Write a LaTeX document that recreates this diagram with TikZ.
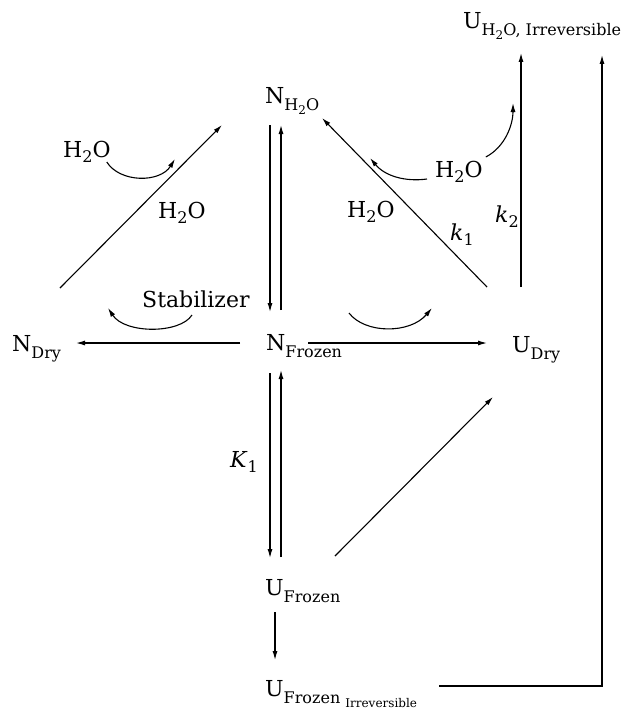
\documentclass[tikz,border=0pt]{standalone}
\usepackage{fontspec}
\setmainfont{DejaVu Serif}
\usepackage{tikz}
\usetikzlibrary{arrows.meta,calc}

\newcommand{\diagfont}{\fontsize{22}{26}\selectfont}
\newcommand{\lo}[1]{\raisebox{-7pt}{\fontsize{16}{18}\selectfont #1}}
\newcommand{\llo}[1]{\raisebox{-4pt}{\fontsize{12}{14}\selectfont #1}}
\newcommand{\wat}{H\raisebox{-5pt}{\fontsize{16}{18}\selectfont 2}O}
\newcommand{\rate}[2]{\textit{#1}\raisebox{-5pt}{\fontsize{16}{18}\selectfont #2}}

\begin{document}
\begin{tikzpicture}[
    x=1pt, y=-1pt,
    every node/.style={inner sep=0pt,anchor=base west,font=\diagfont},
    arrow/.style={-{Latex[length=9pt,width=5pt]},line width=1.1pt},
    curvearrow/.style={-{Latex[length=9pt,width=5pt]},line width=1.1pt}
]
\useasboundingbox (0,0) rectangle (637,709);

% species
\node (nh) at (265,103) {N\lo{H\llo{2}O}};
\node (ndry) at (12,351) {N\lo{Dry}};
\node (nfrz) at (266,350) {N\lo{Frozen}};
\node (udry) at (512,352) {U\lo{Dry}};
\node (ufrz) at (265,595) {U\lo{Frozen}};
\node (ufirr) at (265,696) {U\lo{Frozen \llo{Irreversible}}};
\node (uhirr) at (463,29) {U\lo{H\llo{2}O, Irreversible}};

% labels
\node (wa) at (63,157) {\wat};
\node (wb) at (158,218) {\wat};
\node (stab) at (142,307) {Stabilizer};
\node (wc) at (435,177) {\wat};
\node (wd) at (347,217) {\wat};
\node (ka) at (450,240) {\rate{k}{1}};
\node (kb) at (495,222) {\rate{k}{2}};
\node (kc) at (230,467) {\rate{K}{1}};

% reactions
\draw[arrow] ($(nh.base west)+(5,22)$) -- ($(nfrz.base west)+(4,-38)$);
\draw[arrow] ($(nfrz.base west)+(15,-40)$) -- ($(nh.base west)+(16,22)$);
\draw[arrow] ($(nfrz.base west)+(4,23)$) -- ($(ufrz.base west)+(5,-37)$);
\draw[arrow] ($(ufrz.base west)+(16,-38)$) -- ($(nfrz.base west)+(15,20)$);
\draw[arrow] ($(ndry.base west)+(48,-63)$) -- ($(nh.base west)+(-43,22)$);
\draw[arrow] ($(udry.base west)+(-25,-65)$) -- ($(nh.base west)+(57,15)$);
\draw[arrow] ($(ufrz.base west)+(70,-39)$) -- ($(udry.base west)+(-19,45)$);
\draw[arrow] ($(udry.base west)+(9,-65)$) -- ($(uhirr.base west)+(58,24)$);
\draw[arrow] ($(nfrz.base west)+(-26,-7)$) -- ($(ndry.base west)+(64,-8)$);
\draw[arrow] ($(nfrz.base west)+(42,-7)$) -- ($(udry.base west)+(-25,-9)$);
\draw[arrow] ($(ufrz.base west)+(10,17)$) -- ($(ufirr.base west)+(10,-36)$);
\draw[arrow] ($(ufirr.base west)+(174,-10)$) -| ($(uhirr.base west)+(139,26)$);

% curved arrows
\draw[curvearrow] ($(wa.base east)+(-4,5)$) .. controls (120,183) and (160,183) .. (175,159);
\draw[curvearrow] ($(stab.base west)+(50,8)$) .. controls (180,334) and (125,334) .. (108,308);
\draw[curvearrow] (349,313) .. controls (365,334) and (410,334) .. (432,308);
\draw[curvearrow] ($(wc.base west)+(-8,2)$) .. controls (405,182) and (385,176) .. (370,158);
\draw[curvearrow] ($(wc.base east)+(3,-20)$) .. controls (505,147) and (513,125) .. (513,103);
\end{tikzpicture}
\end{document}
